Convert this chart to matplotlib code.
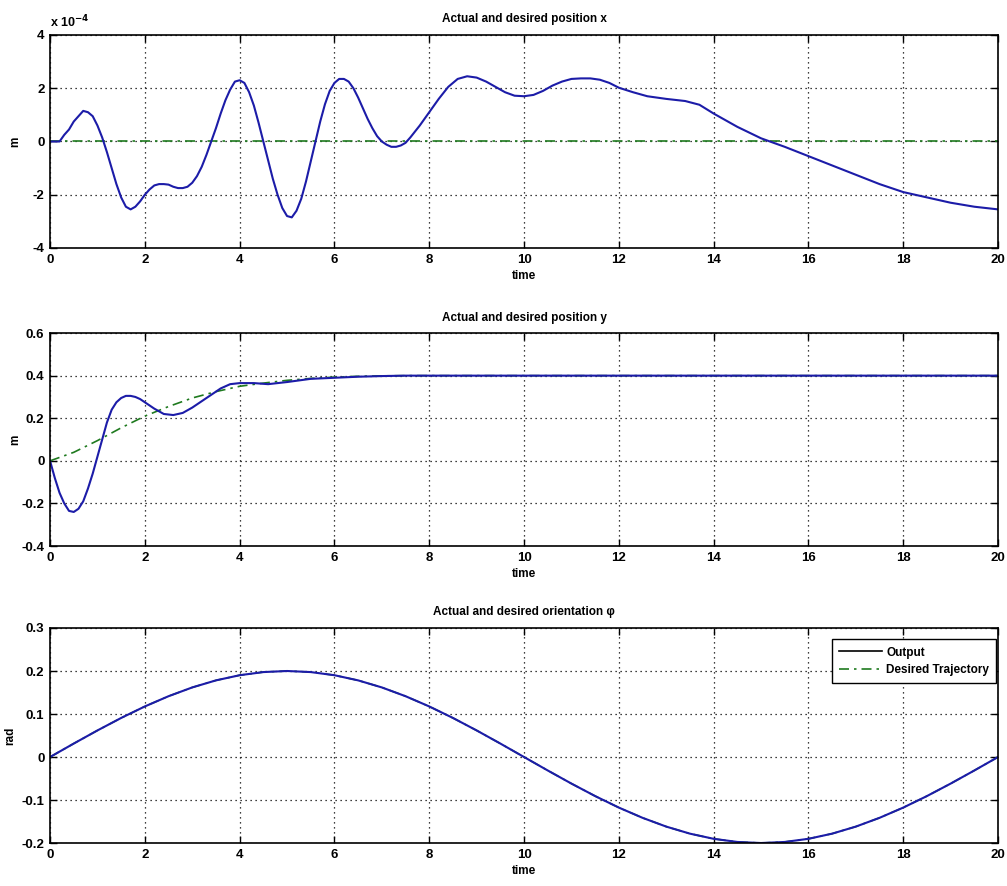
import matplotlib
matplotlib.use("Agg")
import matplotlib.pyplot as plt
from matplotlib.lines import Line2D
from matplotlib import font_manager

### Data ###
# position x (values in units of 1e-4 m)
t_x = [0, 0.2, 0.3, 0.4, 0.5, 0.6, 0.7, 0.8, 0.9, 1.0, 1.1, 1.2, 1.3, 1.4, 1.5, 1.6, 1.7, 1.8, 1.9,
       2.0, 2.1, 2.2, 2.3, 2.4, 2.5, 2.6, 2.7, 2.8, 2.9, 3.0, 3.1, 3.2, 3.3, 3.4, 3.5, 3.6, 3.7, 3.8,
       3.9, 4.0, 4.1, 4.2, 4.3, 4.4, 4.5, 4.6, 4.7, 4.8, 4.9, 5.0, 5.1, 5.2, 5.3, 5.4, 5.5, 5.6, 5.7,
       5.8, 5.9, 6.0, 6.1, 6.2, 6.3, 6.4, 6.5, 6.6, 6.7, 6.8, 6.9, 7.0, 7.1, 7.2, 7.3, 7.4, 7.5, 7.6,
       7.8, 8.0, 8.2, 8.4, 8.6, 8.8, 9.0, 9.2, 9.4, 9.6, 9.8, 10.0, 10.2, 10.4, 10.6, 10.8, 11.0,
       11.2, 11.4, 11.6, 11.8, 12.0, 12.3, 12.6, 13.0, 13.4, 13.7, 14.0, 14.5, 15.0, 15.5, 16.0,
       16.5, 17.0, 17.5, 18.0, 18.5, 19.0, 19.5, 20.0]
x_out = [0, 0, 0.25, 0.45, 0.75, 0.95, 1.15, 1.1, 0.95, 0.6, 0.15, -0.4, -1.0, -1.6, -2.1, -2.45,
         -2.55, -2.45, -2.25, -2.0, -1.8, -1.65, -1.6, -1.6, -1.62, -1.7, -1.75, -1.75, -1.7,
         -1.55, -1.3, -0.95, -0.5, 0.0, 0.5, 1.05, 1.55, 1.95, 2.25, 2.3, 2.2, 1.85, 1.35, 0.7,
         0.0, -0.7, -1.4, -2.0, -2.5, -2.8, -2.85, -2.6, -2.15, -1.5, -0.75, 0.0, 0.75, 1.4, 1.9,
         2.2, 2.35, 2.35, 2.25, 2.0, 1.65, 1.25, 0.85, 0.5, 0.2, 0.0, -0.12, -0.2, -0.2, -0.15,
         -0.05, 0.15, 0.6, 1.1, 1.6, 2.05, 2.35, 2.45, 2.4, 2.25, 2.05, 1.85, 1.72, 1.7, 1.75, 1.9,
         2.1, 2.25, 2.35, 2.37, 2.37, 2.32, 2.2, 2.02, 1.85, 1.7, 1.6, 1.52, 1.38, 1.05, 0.55,
         0.12, -0.2, -0.55, -0.9, -1.25, -1.6, -1.9, -2.1, -2.3, -2.45, -2.55]
t_xd = [0, 20]
x_des = [0, 0]

# position y
t_y = [0, 0.1, 0.2, 0.3, 0.4, 0.5, 0.6, 0.7, 0.8, 0.9, 1.0, 1.1, 1.2, 1.3, 1.4, 1.5, 1.6, 1.7,
       1.8, 1.9, 2.0, 2.2, 2.4, 2.6, 2.8, 3.0, 3.2, 3.4, 3.6, 3.8, 4.0, 4.3, 4.6, 5.0, 5.5, 6.0,
       6.5, 7.0, 7.5, 20]
y_out = [0, -0.08, -0.15, -0.2, -0.235, -0.24, -0.225, -0.19, -0.13, -0.06, 0.02, 0.1, 0.18,
         0.24, 0.275, 0.295, 0.305, 0.305, 0.3, 0.29, 0.275, 0.245, 0.22, 0.215, 0.225, 0.25,
         0.28, 0.31, 0.34, 0.36, 0.365, 0.365, 0.36, 0.37, 0.385, 0.39, 0.395, 0.398, 0.4, 0.4]
t_yd = [0, 0.5, 1, 1.5, 2, 2.5, 3, 3.5, 4, 4.5, 5, 5.5, 6, 6.5, 7, 7.5, 20]
y_des = [0, 0.04, 0.095, 0.155, 0.21, 0.255, 0.295, 0.325, 0.35, 0.365, 0.378, 0.387, 0.393,
         0.397, 0.399, 0.4, 0.4]

# orientation phi
t_phi = [0, 0.5, 1, 1.5, 2, 2.5, 3, 3.5, 4, 4.5, 5, 5.5, 6, 6.5, 7, 7.5, 8, 8.5, 9, 9.5, 10,
         10.5, 11, 11.5, 12, 12.5, 13, 13.5, 14, 14.5, 15, 15.5, 16, 16.5, 17, 17.5, 18, 18.5,
         19, 19.5, 20]
phi_out = [0, 0.0313, 0.0618, 0.0908, 0.1176, 0.1414, 0.1618, 0.1782, 0.1902, 0.1975, 0.2,
           0.1975, 0.1902, 0.1782, 0.1618, 0.1414, 0.1176, 0.0908, 0.0618, 0.0313, 0,
           -0.0313, -0.0618, -0.0908, -0.1176, -0.1414, -0.1618, -0.1782, -0.1902, -0.1975, -0.2,
           -0.1975, -0.1902, -0.1782, -0.1618, -0.1414, -0.1176, -0.0908, -0.0618, -0.0313, 0]
phi_des = list(phi_out)

titles = ["Actual and desired position x", "Actual and desired position y",
          "Actual and desired orientation \u03c6"]
ylabels = ["m", "m", "rad"]
ylabel_x = [-0.03, -0.03, -0.036]
yticks = [[-4, -2, 0, 2, 4],
          [-0.4, -0.2, 0, 0.2, 0.4, 0.6],
          [-0.2, -0.1, 0, 0.1, 0.2, 0.3]]
yticklabels = [["-4", "-2", "0", "2", "4"],
               ["-0.4", "-0.2", "0", "0.2", "0.4", "0.6"],
               ["-0.2", "-0.1", "0", "0.1", "0.2", "0.3"]]
xticks = [0, 2, 4, 6, 8, 10, 12, 14, 16, 18, 20]

### Style ###
names = {f.name for f in font_manager.fontManager.ttflist}
main_font = "Liberation Sans Narrow" if "Liberation Sans Narrow" in names else "Liberation Sans"
plt.rcParams['font.family'] = [main_font, 'DejaVu Sans']
plt.rcParams['font.weight'] = 'bold'
plt.rcParams['axes.titleweight'] = 'bold'
plt.rcParams['axes.labelweight'] = 'bold'
plt.rcParams['mathtext.default'] = 'bf'
plt.rcParams['axes.unicode_minus'] = False

out_color = '#1c1ca8'
des_color = '#1f7a1f'
des_style = (0, (6, 3, 1.5, 3))

fig = plt.figure(figsize=(10.07, 8.86), dpi=100)
positions = [[0.0497, 0.7201, 0.9414, 0.2404],
             [0.0497, 0.3837, 0.9414, 0.2404],
             [0.0497, 0.0485, 0.9414, 0.2427]]

series = [(t_x, x_out, t_xd, x_des), (t_y, y_out, t_yd, y_des), (t_phi, phi_out, t_phi, phi_des)]

axes = []
for i in range(3):
    ax = fig.add_axes(positions[i])
    ts, out, td, des = series[i]
    ax.plot(td, des, color=des_color, linestyle=des_style, linewidth=1.2)
    ax.plot(ts, out, color=out_color, linewidth=1.5)
    ax.set_xlim(0, 20)
    ax.set_ylim(yticks[i][0], yticks[i][-1])
    ax.set_xticks(xticks)
    ax.set_xticklabels([str(v) for v in xticks])
    ax.set_yticks(yticks[i])
    ax.set_yticklabels(yticklabels[i])
    ax.grid(True, color='black', linestyle=(0, (1, 3)), linewidth=0.9)
    ax.tick_params(direction='in', top=True, right=True, length=5, width=1,
                   labelsize=9.5, pad=4)
    for s in ax.spines.values():
        s.set_linewidth(1.2)
    ax.set_title(titles[i], fontsize=8.5, pad=9)
    ax.set_xlabel("time", fontsize=8.5, labelpad=3)
    ax.set_ylabel(ylabels[i], fontsize=8.5)
    ax.yaxis.set_label_coords(ylabel_x[i], 0.5)
    axes.append(ax)

# exponent label of the top plot
axes[0].text(0.0, 1.02, r'x 10$^{-4}$', transform=axes[0].transAxes, fontsize=9,
             ha='left', va='bottom')

handles = [Line2D([], [], color='black', linewidth=1.2),
           Line2D([], [], color=des_color, linestyle=des_style, linewidth=1.2)]
leg = axes[2].legend(handles, ["Output", "Desired Trajectory"], loc='upper right',
                     bbox_to_anchor=(1.0, 0.955),
                     fontsize=8.5, fancybox=False, framealpha=1, edgecolor='black',
                     handlelength=3.6, handletextpad=0.4, borderaxespad=0.15,
                     borderpad=0.6, labelspacing=0.45)
leg.get_frame().set_linewidth(1.0)

fig.savefig("out.png", dpi=100)
